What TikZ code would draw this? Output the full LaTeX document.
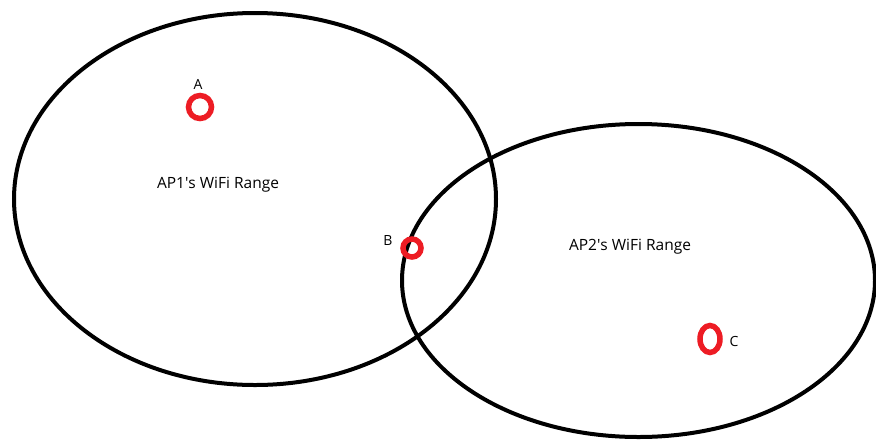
\documentclass[tikz,border=0pt]{standalone}
\usepackage{fontspec}
\setmainfont{Open Sans}
\usetikzlibrary{shapes.geometric}
\definecolor{paintred}{RGB}{237,28,36}
\begin{document}
\begin{tikzpicture}[x=1pt,y=-1pt,
  wifirange/.style={draw=black,line width=4pt},
  station/.style={draw=paintred,line width=5.5pt},
  lbl/.style={font=\fontsize{15.5}{18}\selectfont,text=black,inner sep=0pt},
  letter/.style={font=\fontsize{14}{16}\selectfont,text=black,inner sep=0pt}]
\useasboundingbox (0,0) rectangle (876,440);
\draw[wifirange] (255,199) ellipse [x radius=241, y radius=186];
\draw[wifirange] (638.5,280.5) ellipse [x radius=236.5, y radius=156.5];
\node[station,circle,minimum size=23pt,inner sep=0pt] (a) at (200,107) {};
\node[station,circle,minimum size=18pt,inner sep=0pt] (b) at (412,248) {};
\node[station,ellipse,minimum width=20pt,minimum height=27pt,inner sep=0pt] (c) at (710,339) {};
\node[letter] (la) at (198,84) {A};
\node[letter] (lb) at (388,240) {B};
\node[letter] (lc) at (734,341) {C};
\node[lbl] (r1) at (218,185) {AP1\textquotesingle s WiFi Range};
\node[lbl] (r2) at (630,247) {AP2\textquotesingle s WiFi Range};
\end{tikzpicture}
\end{document}
